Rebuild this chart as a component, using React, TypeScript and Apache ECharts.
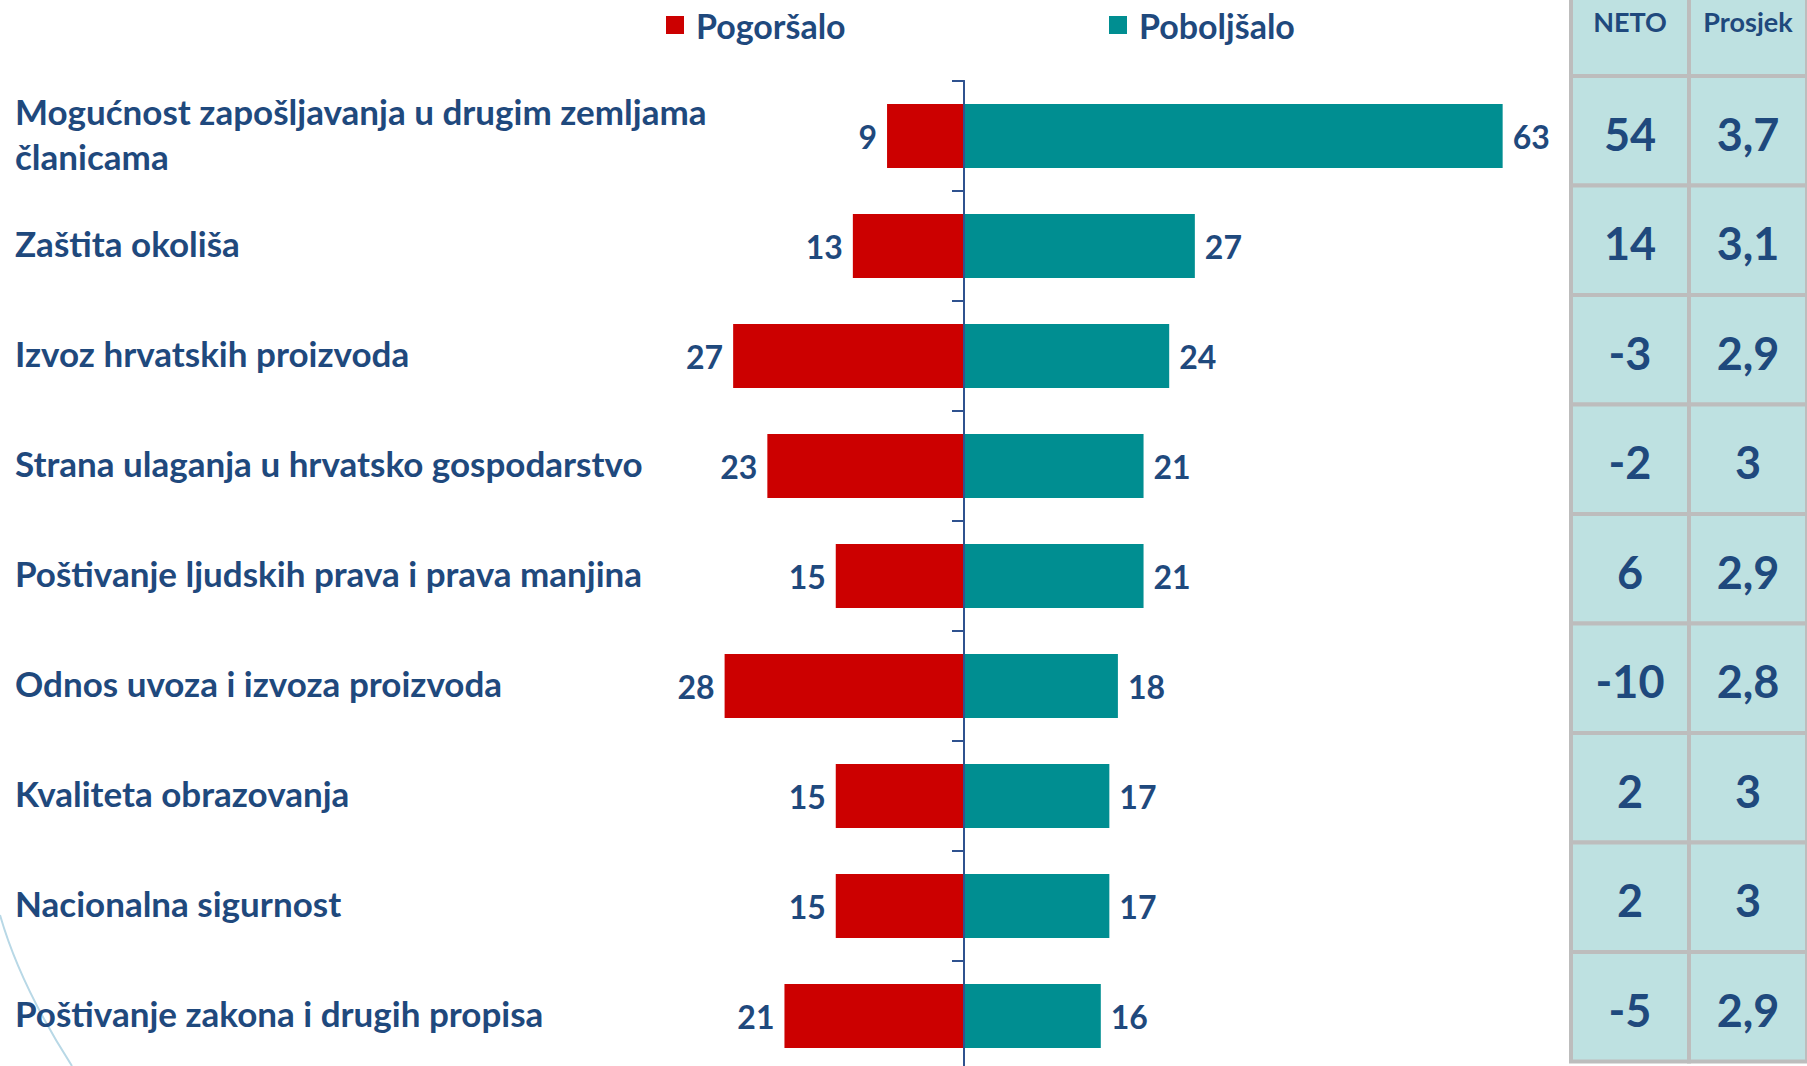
import React, { useEffect, useRef } from "react";
import * as echarts from "echarts";

const categories = [
  "Mogućnost zapošljavanja u drugim zemljama\nčlanicama",
  "Zaštita okoliša",
  "Izvoz hrvatskih proizvoda",
  "Strana ulaganja u hrvatsko gospodarstvo",
  "Poštivanje ljudskih prava i prava manjina",
  "Odnos uvoza i izvoza proizvoda",
  "Kvaliteta obrazovanja",
  "Nacionalna sigurnost",
  "Poštivanje zakona i drugih propisa",
];
const worse = [9, 13, 27, 23, 15, 28, 15, 15, 21];
const better = [63, 27, 24, 21, 21, 18, 17, 17, 16];
const seriesNames = ["Pogoršalo", "Poboljšalo"];
const tableHeaders = ["NETO", "Prosjek"];
const neto = [54, 14, -3, -2, 6, -10, 2, 2, -5];
const prosjek = [3.7, 3.1, 2.9, 3, 2.9, 2.8, 3, 3, 2.9];

const TEXT = "#1F497D";
const AXIS = "#2F528F";
const RED = "#CC0000";
const TEAL = "#008E91";
const FONT = "Lato, 'Open Sans', sans-serif";

export default function App() {
  const ref = useRef<HTMLDivElement>(null);
  useEffect(() => {
    const chart = echarts.init(ref.current!, null, { renderer: "svg" });

    const cellData: number[][] = [];
    const cellTexts: string[] = [];
    tableHeaders.forEach((h, c) => {
      cellData.push([c, 0]);
      cellTexts.push(h);
    });
    categories.forEach((_, r) => {
      cellData.push([0, r + 1]);
      cellTexts.push(String(neto[r]));
      cellData.push([1, r + 1]);
      cellTexts.push(String(prosjek[r]).replace(".", ","));
    });

    const yBase = {
      type: "category",
      gridIndex: 0,
      data: categories,
      inverse: true,
      z: 5,
      axisLine: { show: true, onZero: true, onZeroAxisIndex: 0, lineStyle: { color: AXIS, width: 2 } },
      splitLine: { show: false },
      axisLabel: { show: false },
    };

    const legendText = { color: TEXT, fontFamily: FONT, fontWeight: "bold", fontSize: 34, padding: [0, 0, 0, 7] };

    chart.setOption({
      animation: false,
      backgroundColor: "#ffffff",
      legend: [
        {
          data: [seriesNames[0]],
          left: 666,
          top: 8,
          padding: 0,
          icon: "rect",
          itemWidth: 18,
          itemHeight: 18,
          textStyle: legendText,
        },
        {
          data: [seriesNames[1]],
          left: 1109,
          top: 8,
          padding: 0,
          icon: "rect",
          itemWidth: 18,
          itemHeight: 18,
          textStyle: legendText,
        },
      ],
      grid: [
        { left: 536.5, top: 81, width: 1026, height: 990, containLabel: false, outerBoundsMode: "none" },
        { left: 1571, top: -33.5, width: 236, height: 1095, containLabel: false, outerBoundsMode: "none" },
        { left: 15, top: 78, width: 10, height: 990, containLabel: false, outerBoundsMode: "none" },
      ],
      xAxis: [
        { type: "value", gridIndex: 0, min: -50, max: 70, show: false },
        { type: "category", gridIndex: 1, data: tableHeaders, show: false },
        { type: "value", gridIndex: 2, min: 0, max: 1, show: false },
      ],
      yAxis: [
        {
          ...yBase,
          axisTick: { show: true, inside: false, length: 12, lineStyle: { color: AXIS, width: 2 } },
        },
        {
          ...yBase,
          axisTick: { show: true, inside: true, length: 12, lineStyle: { color: AXIS, width: 2 } },
        },
        {
          type: "category",
          gridIndex: 1,
          data: ["", ...categories],
          inverse: true,
          show: false,
        },
        {
          type: "category",
          gridIndex: 2,
          data: categories,
          inverse: true,
          position: "left",
          axisLine: { show: false },
          axisTick: { show: false },
          splitLine: { show: false },
          axisLabel: {
            show: true,
            inside: true,
            margin: 0,
            align: "left",
            color: TEXT,
            fontFamily: FONT,
            fontWeight: "bold",
            fontSize: 35,
            lineHeight: 45,
          },
        },
      ],
      graphic: [
        {
          type: "bezierCurve",
          shape: { x1: 0, y1: 915, cpx1: 20, cpy1: 985, x2: 72, y2: 1066 },
          style: { stroke: "#B8D8E6", lineWidth: 2, fill: "none" },
          silent: true,
        },
      ],
      series: [
        {
          name: seriesNames[0],
          type: "bar",
          xAxisIndex: 0,
          yAxisIndex: 0,
          stack: "total",
          barWidth: 64,
          data: worse.map((v) => -v),
          itemStyle: { color: RED },
          label: {
            show: true,
            position: "left",
            distance: 10,
            formatter: (p: any) => String(Math.abs(p.value)),
            color: TEXT,
            fontFamily: FONT,
            fontWeight: "bold",
            fontSize: 32,
          },
        },
        {
          name: seriesNames[1],
          type: "bar",
          xAxisIndex: 0,
          yAxisIndex: 0,
          stack: "total",
          barWidth: 64,
          data: better,
          itemStyle: { color: TEAL },
          label: {
            show: true,
            position: "right",
            distance: 10,
            color: TEXT,
            fontFamily: FONT,
            fontWeight: "bold",
            fontSize: 32,
          },
        },
        {
          type: "custom",
          xAxisIndex: 1,
          yAxisIndex: 2,
          data: cellData,
          clip: false,
          renderItem: (params: any, api: any) => {
            const c = api.coord([api.value(0), api.value(1)]);
            const s = api.size([1, 1]);
            const isHeader = api.value(1) === 0;
            return {
              type: "group",
              children: [
                {
                  type: "rect",
                  shape: { x: c[0] - s[0] / 2, y: c[1] - s[1] / 2, width: s[0], height: s[1] },
                  style: { fill: "#BEE1E1", stroke: "#BDBDBD", lineWidth: 4 },
                },
                {
                  type: "text",
                  style: {
                    text: cellTexts[params.dataIndex],
                    x: c[0],
                    y: c[1] + (isHeader ? 0 : 3),
                    align: "center",
                    verticalAlign: "middle",
                    fill: TEXT,
                    fontFamily: FONT,
                    fontWeight: "bold",
                    fontSize: isHeader ? 27 : 45,
                  },
                },
              ],
            };
          },
        },
      ],
    });
    return () => chart.dispose();
  }, []);
  return <div ref={ref} style={{ position: "fixed", left: 0, top: 0, width: 1807, height: 1066 }} />;
}
